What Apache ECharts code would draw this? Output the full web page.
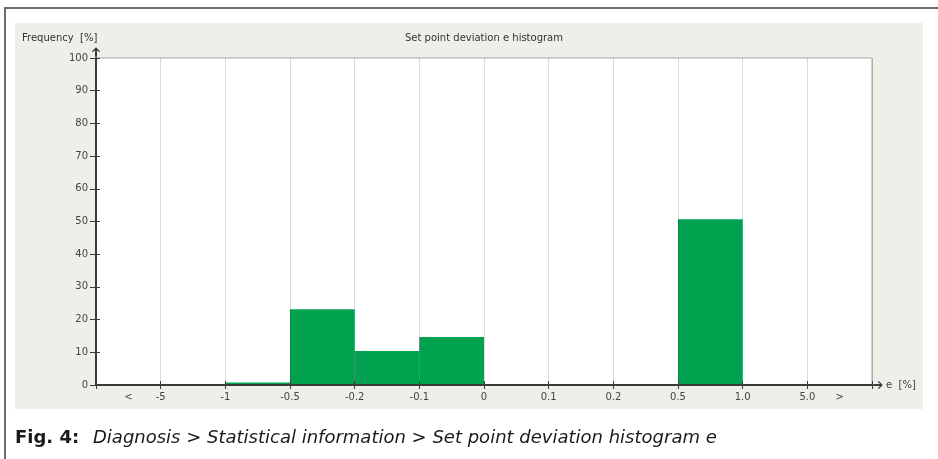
<!DOCTYPE html>
<html><head><meta charset="utf-8">
<script src="https://cdn.jsdelivr.net/npm/echarts@6/dist/echarts.min.js"></script>
<style>html,body{margin:0;padding:0;background:#fff}#c{width:938px;height:459px}</style>
</head><body><div id="c"></div>
<script>
// ---- data ----
const binNames = ['< -5', '-5 … -1', '-1 … -0.5', '-0.5 … -0.2', '-0.2 … -0.1', '-0.1 … 0',
                  '0 … 0.1', '0.1 … 0.2', '0.2 … 0.5', '0.5 … 1.0', '1.0 … 5.0', '> 5.0'];
const frequency = [0, 0, 0.8, 23.2, 10.4, 14.7, 0, 0, 0, 50.7, 0, 0];
const boundaryLabels = ['-5', '-1', '-0.5', '-0.2', '-0.1', '0', '0.1', '0.2', '0.5', '1.0', '5.0'];
const outerLabels = ['<', '>'];
const chartTitle = 'Set point deviation e histogram';
const yName = 'Frequency  [%]';
const xName = 'e  [%]';
const captionBold = 'Fig. 4:';
const captionText = 'Diagnosis > Statistical information > Set point deviation histogram e';

// ---- styling ----
const FONT = 'DejaVu Sans';
const AXIS_COLOR = '#3a3a3a';
const LABEL_COLOR = '#444';
const arrowPath = 'path://M5 0 L10 5 L9 6.2 L6.25 3.4 L6.25 12 L3.75 12 L3.75 3.4 L1 6.2 L0 5 Z';
const nBins = binNames.length;

const chart = echarts.init(document.getElementById('c'), null, {renderer: 'canvas'});
chart.setOption({
  animation: false,
  backgroundColor: '#ffffff',
  title: [
    {text: chartTitle, left: 484, top: 33, padding: 0, textAlign: 'center',
     textStyle: {fontFamily: FONT, fontSize: 10, fontWeight: 'normal', color: '#333'}},
    {text: yName, left: 22, top: 33, padding: 0,
     textStyle: {fontFamily: FONT, fontSize: 10, fontWeight: 'normal', color: '#333'}}
  ],
  graphic: [
    {type: 'rect', z: -100, shape: {x: 15, y: 23, width: 908, height: 386},
     style: {fill: '#f0eee9'}},
    {type: 'rect', z: 100, shape: {x: 4, y: 7, width: 934, height: 2}, style: {fill: '#6e6e6e'}},
    {type: 'rect', z: 100, shape: {x: 4, y: 7, width: 2, height: 452}, style: {fill: '#6e6e6e'}},
    {type: 'text', x: 15, y: 438, z: 100,
     style: {text: captionBold, fill: '#1a1a1a', font: 'bold 18px "DejaVu Sans"', verticalAlign: 'middle'}},
    {type: 'text', x: 93, y: 438, z: 100,
     style: {text: captionText, fill: '#1a1a1a', font: 'italic 18px "DejaVu Sans"', verticalAlign: 'middle'}}
  ],
  grid: {left: 96, right: 66, top: 58, bottom: 74, show: true,
         backgroundColor: '#ffffff', borderColor: '#a8a8a8', borderWidth: 1},
  xAxis: [
    {type: 'value', min: 0, max: nBins, interval: 1, position: 'bottom', z: 5,
     name: xName, nameLocation: 'end', nameGap: 14,
     nameTextStyle: {fontFamily: FONT, fontSize: 10, color: LABEL_COLOR},
     axisLine: {show: true, onZero: false, lineStyle: {color: AXIS_COLOR, width: 2},
                symbol: ['none', arrowPath], symbolSize: [8, 12], symbolOffset: [0, 6]},
     axisTick: {show: true, inside: false, length: 4, lineStyle: {color: AXIS_COLOR, width: 1}},
     axisLabel: {show: true, margin: 7, fontFamily: FONT, fontSize: 10, color: LABEL_COLOR,
                 formatter: v => (v >= 1 && v <= boundaryLabels.length) ? boundaryLabels[v - 1] : ''},
     splitLine: {show: true, lineStyle: {color: 'rgba(0,0,0,0.14)', width: 1}}},
    {type: 'value', min: 0, max: nBins, interval: 1, position: 'bottom', offset: 0, z: 5,
     axisLine: {show: false, onZero: false},
     axisTick: {show: true, inside: true, length: 4, lineStyle: {color: AXIS_COLOR, width: 1}},
     axisLabel: {show: false}, splitLine: {show: false}},
    {type: 'category', data: binNames, position: 'bottom', boundaryGap: true,
     axisLine: {show: false, onZero: false}, axisTick: {show: false},
     axisLabel: {show: true, interval: 0, margin: 7, fontFamily: FONT, fontSize: 10, color: LABEL_COLOR,
                 formatter: (v, i) => i === 0 ? outerLabels[0] : (i === nBins - 1 ? outerLabels[1] : '')},
     splitLine: {show: false}}
  ],
  yAxis: [
    {type: 'value', min: 0, max: 100, interval: 10, position: 'left', z: 5,
     axisLine: {show: true, onZero: false, lineStyle: {color: AXIS_COLOR, width: 2},
                symbol: ['none', arrowPath], symbolSize: [8, 12], symbolOffset: [0, 6]},
     axisTick: {show: true, inside: false, length: 6, lineStyle: {color: AXIS_COLOR, width: 1}},
     axisLabel: {show: true, margin: 8, fontFamily: FONT, fontSize: 10, color: LABEL_COLOR},
     splitLine: {show: false}},
    {type: 'value', min: 0, max: 100, interval: 10, position: 'left', offset: 0, z: 5,
     axisLine: {show: false, onZero: false},
     axisTick: {show: true, inside: true, length: 4, lineStyle: {color: AXIS_COLOR, width: 1}},
     axisLabel: {show: false}, splitLine: {show: false}}
  ],
  series: [{
    type: 'bar', xAxisIndex: 2, yAxisIndex: 0, data: frequency,
    barWidth: '100%', barGap: '0%', barCategoryGap: '0%',
    itemStyle: {color: '#00a250'},
    z: 1
  }]
});
</script></body></html>
